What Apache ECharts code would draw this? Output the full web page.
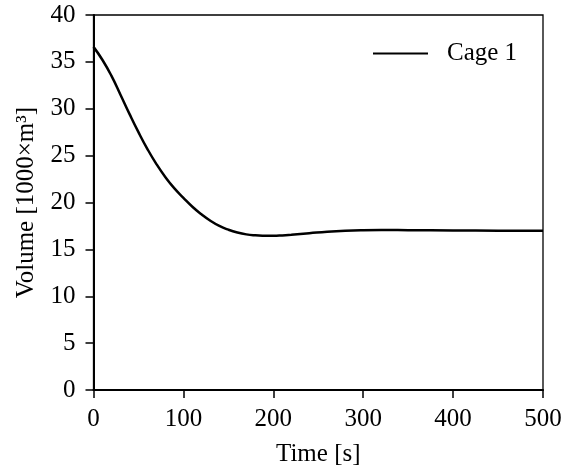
<!DOCTYPE html>
<html>
<head>
<meta charset="utf-8">
<script src="https://cdn.jsdelivr.net/npm/echarts@6/dist/echarts.min.js"></script>
<style>
  html, body { margin: 0; padding: 0; background: #fff; }
  #chart { width: 564px; height: 469px; }
</style>
</head>
<body>
<div id="chart"></div>
<script>
// time [s] and volume [1000 m3]
const timeS = [0, 10, 20, 30, 40, 50, 60, 70, 80, 90, 100, 110, 120, 130, 140, 150, 160, 170, 180, 190, 200, 210, 220, 240, 260, 280, 300, 320, 350, 400, 450, 500]
const cage1 = [36.6, 35.2, 33.5, 31.5, 29.45, 27.5, 25.7, 24.1, 22.7, 21.5, 20.5, 19.55, 18.75, 18.05, 17.5, 17.1, 16.8, 16.6, 16.5, 16.46, 16.45, 16.49, 16.56, 16.72, 16.88, 16.99, 17.05, 17.07, 17.05, 17.01, 17.0, 17.0]
const xTicks = [0, 100, 200, 300, 400, 500]
const yTicks = [0, 5, 10, 15, 20, 25, 30, 35, 40]

const font = "'Liberation Serif', 'Times New Roman', Times, serif"

const chart = echarts.init(document.getElementById('chart'), null, { renderer: 'canvas' })

chart.setOption({
  animation: false,
  backgroundColor: '#fff',
  grid: {
    left: 93.5,
    right: 21,
    top: 15,
    bottom: 79,
    containLabel: false,
    outerBoundsMode: 'none',
    show: true,
    borderColor: '#000',
    borderWidth: 1.3
  },
  legend: {
    left: 368,
    top: 36,
    itemWidth: 55,
    itemHeight: 2,
    icon: 'rect',
    data: ['Cage 1'],
    textStyle: {
      fontFamily: font,
      fontSize: 25,
      color: '#000',
      padding: [0, 0, 0, 14]
    }
  },
  xAxis: {
    type: 'value',
    min: xTicks[0],
    max: xTicks[xTicks.length - 1],
    interval: 100,
    name: 'Time [s]',
    nameLocation: 'middle',
    nameGap: 52,
    nameTextStyle: { fontFamily: font, fontSize: 25, color: '#000' },
    axisLine: { lineStyle: { color: '#000', width: 2 } },
    axisTick: { show: true, length: 8, lineStyle: { color: '#000', width: 1.5 } },
    axisLabel: { fontFamily: font, fontSize: 25, color: '#000', margin: 17 },
    splitLine: { show: false }
  },
  yAxis: {
    type: 'value',
    min: yTicks[0],
    max: yTicks[yTicks.length - 1],
    interval: 5,
    name: 'Volume [1000×m³]',
    nameLocation: 'middle',
    nameGap: 55,
    nameTextStyle: { fontFamily: font, fontSize: 25, color: '#000' },
    axisLine: { show: true, lineStyle: { color: '#000', width: 2 } },
    axisTick: { show: true, length: 8, lineStyle: { color: '#000', width: 1.5 } },
    axisLabel: { fontFamily: font, fontSize: 25, color: '#000', margin: 18 },
    splitLine: { show: false }
  },
  series: [
    {
      name: 'Cage 1',
      type: 'line',
      data: timeS.map((t, i) => [t, cage1[i]]),
      smooth: 0.5,
      symbol: 'none',
      lineStyle: { color: '#000', width: 2.5 },
      itemStyle: { color: '#000' }
    }
  ]
})
</script>
</body>
</html>
